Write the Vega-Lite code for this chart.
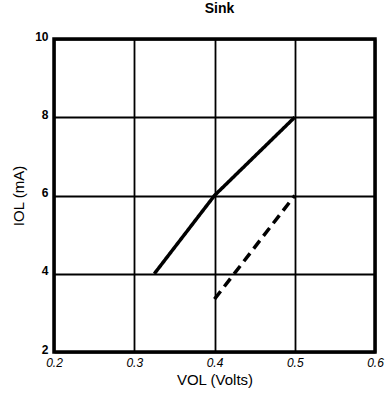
{
  "$schema": "https://vega.github.io/schema/vega-lite/v6.json",
  "width": 321,
  "height": 313,
  "autosize": {"type": "none"},
  "padding": {"left": 54, "top": 39, "right": 10, "bottom": 46},
  "background": "white",
  "title": {"text": "Sink", "font": "Liberation Sans", "fontSize": 14, "fontWeight": "bold", "color": "black", "offset": 14, "dx": 5},
  "config": {
    "view": {"stroke": "black", "strokeWidth": 3.5},
    "axis": {"grid": true, "gridColor": "black", "gridOpacity": 1, "gridWidth": 1.8, "domain": false, "ticks": false, "labelColor": "black", "labelFont": "Liberation Sans", "titleColor": "black", "titleFont": "Liberation Sans", "titleFontWeight": "normal", "titleFontSize": 15}
  },
  "data": {"values": [
    {"v": 0.325, "i": 4.0, "s": "a"},
    {"v": 0.4, "i": 6.0, "s": "a"},
    {"v": 0.415, "i": 6.3, "s": "a"},
    {"v": 0.5, "i": 8.0, "s": "a"},
    {"v": 0.4, "i": 3.35, "s": "b"},
    {"v": 0.5, "i": 6.0, "s": "b"}
  ]},
  "mark": {"type": "line", "color": "black", "strokeWidth": 3.5, "clip": true},
  "encoding": {
    "x": {"field": "v", "type": "quantitative", "scale": {"domain": [0.2, 0.6], "nice": false, "zero": false},
      "axis": {"values": [0.2, 0.3, 0.4, 0.5, 0.6], "format": ".1f", "title": "VOL  (Volts)", "labelFontSize": 12, "labelFontStyle": "italic", "labelPadding": 5, "titlePadding": 4, "labelFlush": false}},
    "y": {"field": "i", "type": "quantitative", "scale": {"domain": [2, 10], "nice": false, "zero": false},
      "axis": {"values": [2, 4, 6, 8, 10], "title": "IOL (mA)", "labelFontSize": 12, "labelFontWeight": "bold", "labelPadding": 6, "labelOffset": -3, "titlePadding": 8}},
    "strokeDash": {"field": "s", "type": "nominal", "scale": {"domain": ["a", "b"], "range": [[1, 0], [10, 6]]}, "legend": null}
  }
}
